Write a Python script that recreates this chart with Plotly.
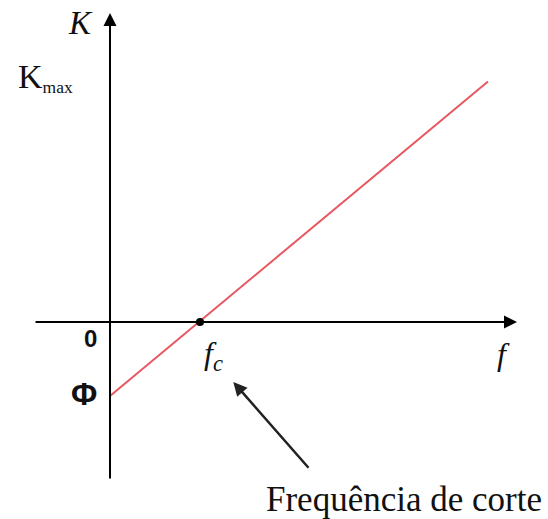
import plotly.graph_objects as go

# Data (arbitrary units: cutoff frequency fc = 1, intercept Phi = -1)
f_line = [0.0, 4.2]
K_line = [-1.0, 3.25]
fc_point = [1.0]
K_fc = [0.0]
phi_value = -1.0
kmax_value = 3.3

x_range = [-1.2222, 4.8667]
y_range = [-2.662, 4.351]

fig = go.Figure()

fig.add_trace(go.Scatter(x=f_line, y=K_line, mode="lines",
                         line=dict(color="#E8575F", width=2), hoverinfo="skip"))
fig.add_trace(go.Scatter(x=fc_point, y=K_fc, mode="markers",
                         marker=dict(color="black", size=8), hoverinfo="skip"))

serif = "Liberation Serif"
sans = "Liberation Sans Narrow, Liberation Sans"

ann = []
# y axis with arrow
ann.append(dict(x=0, y=4.176, ax=0, ay=-2.135, xref="x", yref="y", axref="x", ayref="y",
                showarrow=True, arrowhead=2, arrowsize=1.3, arrowwidth=2, arrowcolor="black", text=""))
# x axis with arrow
ann.append(dict(x=4.522, y=0, ax=-0.844, ay=0, xref="x", yref="y", axref="x", ayref="y",
                showarrow=True, arrowhead=2, arrowsize=1.3, arrowwidth=2, arrowcolor="black", text=""))
# pointer arrow
ann.append(dict(x=1.37, y=-0.81, ax=2.22, ay=-1.99, xref="x", yref="y", axref="x", ayref="y",
                showarrow=True, arrowhead=2, arrowsize=1.1, arrowwidth=2.5, arrowcolor="#222", text=""))

ann.append(dict(x=-0.333, y=4.04, xref="x", yref="y", showarrow=False, text="<i>K</i>",
                font=dict(family=serif, size=33, color="#111")))
ann.append(dict(x=-0.72, y=kmax_value, xref="x", yref="y", showarrow=False,
                text="K<span style='font-size:25px'><sub>max</sub></span>",
                font=dict(family=serif, size=34, color="#111")))
ann.append(dict(x=-0.222, y=-0.22, xref="x", yref="y", showarrow=False, text="<b>0</b>",
                font=dict(family=sans, size=24, color="#111")))
ann.append(dict(x=-0.289, y=phi_value + 0.03, xref="x", yref="y", showarrow=False, text="<b>Φ</b>",
                font=dict(family=sans, size=32, color="#111")))
ann.append(dict(x=1.15, y=-0.45, xref="x", yref="y", showarrow=False,
                text="<i>f<sub>c</sub></i>",
                font=dict(family=serif, size=32, color="#111")))
ann.append(dict(x=4.37, y=-0.43, xref="x", yref="y", showarrow=False, text="<i>f</i>",
                font=dict(family=serif, size=32, color="#111")))
ann.append(dict(x=3.267, y=-2.392, xref="x", yref="y", showarrow=False, text="Frequência de corte",
                font=dict(family=serif, size=35, color="#111")))

fig.update_layout(
    width=548, height=519,
    margin=dict(l=0, r=0, t=0, b=0),
    paper_bgcolor="white", plot_bgcolor="white",
    showlegend=False,
    xaxis=dict(range=x_range, visible=False, fixedrange=True),
    yaxis=dict(range=y_range, visible=False, fixedrange=True),
    annotations=ann,
)

fig.write_html("out.html", config={"displayModeBar": False, "staticPlot": True},
               post_script="document.body.style.margin='0';document.body.style.overflow='hidden';")
